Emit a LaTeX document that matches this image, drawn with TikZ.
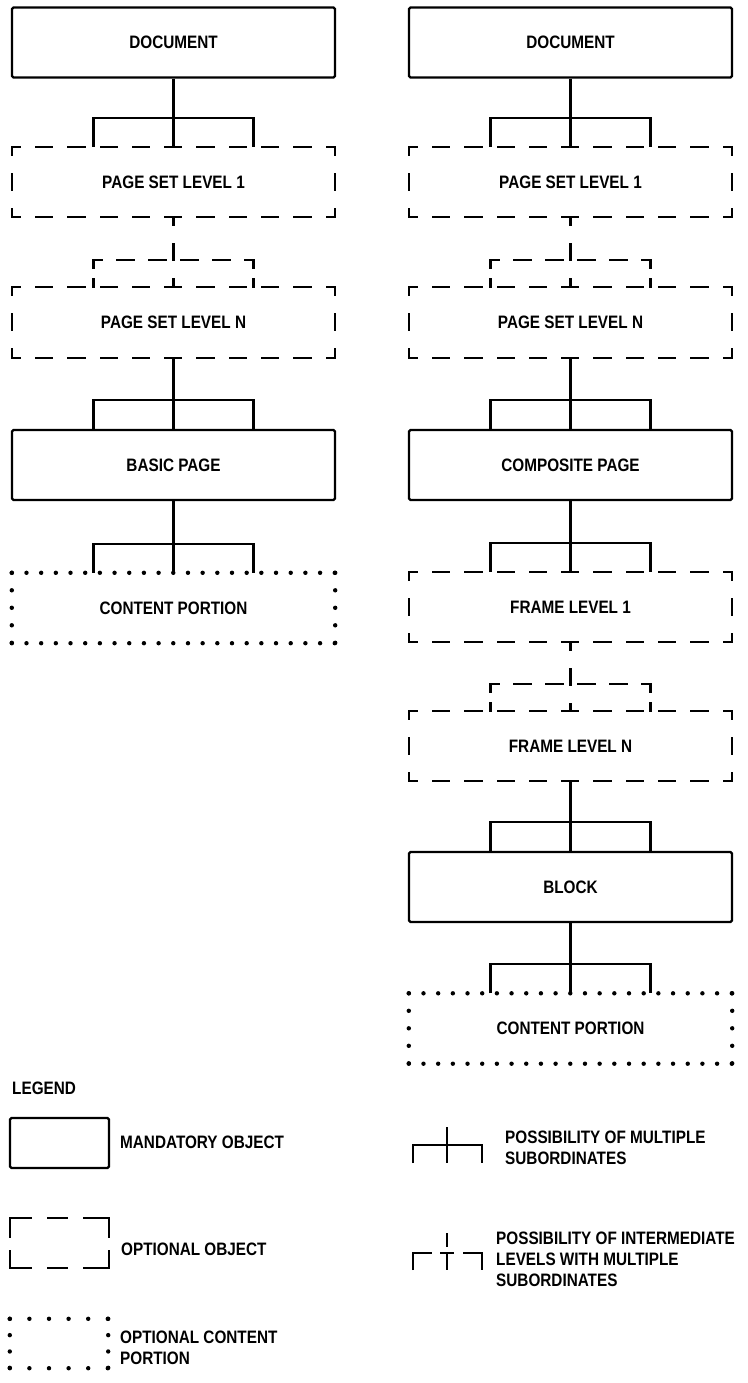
\documentclass[tikz,border=0pt]{standalone}
\usepackage{fontspec}
\newfontfamily\lblfont[FakeStretch=0.85]{Liberation Sans}
\usetikzlibrary{calc}

% dashed outline of an optional object
\newcommand\optframe[1]{%
  \draw[hside] (#1.north west) -- (#1.north east);
  \draw[hside] (#1.south west) -- (#1.south east);
  \draw[vside] (#1.north west) -- (#1.south west);
  \draw[vside] (#1.north east) -- (#1.south east);}
% dotted outline of a content portion
\newcommand\dotframe[1]{%
  \draw[hdots] (#1.north west) -- (#1.north east);
  \draw[hdots] (#1.south west) -- (#1.south east);
  \draw[vdots] (#1.north west) -- (#1.south west);
  \draw[vdots] (#1.north east) -- (#1.south east);}
% mandatory link to several subordinates
\newcommand\fanout[2]{%
  \draw[wire] (#1.south) -- (#2.north);
  \draw[wire] ([xshift=-80pt]#2.north) -- ([xshift=-80pt,yshift=29pt]#2.north)
              -- ([xshift=80pt,yshift=29pt]#2.north) -- ([xshift=80pt]#2.north);}
% link through optional intermediate levels
\newcommand\dfanout[2]{%
  \draw[vside] (#1.south) -- (#2.north);
  \draw[brh] ([xshift=-80pt,yshift=27pt]#2.north) -- ([xshift=80pt,yshift=27pt]#2.north);
  \draw[brv] ([xshift=-80pt,yshift=27pt]#2.north) -- ([xshift=-80pt]#2.north);
  \draw[brv] ([xshift=80pt,yshift=27pt]#2.north) -- ([xshift=80pt]#2.north);}

\begin{document}
\begin{tikzpicture}[x=1pt,y=-1pt,
  every node/.style={font=\lblfont\bfseries\fontsize{18}{21}\selectfont, inner sep=0pt},
  obj/.style={rectangle, minimum width=323pt, minimum height=70pt},
  mand/.style={obj, draw, line width=2.3pt, rounded corners=1.5pt},
  opt/.style={obj},
  cont/.style={obj},
  wire/.style={line width=2.3pt},
  hside/.style={line width=2.3pt, line cap=rect, dash pattern=on 16pt off 16.3pt, dash phase=8pt},
  vside/.style={line width=2.3pt, line cap=rect, dash pattern=on 16pt off 19pt, dash phase=8pt},
  brh/.style={line width=2.3pt, line cap=rect, dash pattern=on 16pt off 16pt, dash phase=8pt},
  brv/.style={line width=2.3pt, line cap=rect, dash pattern=on 16pt off 11pt, dash phase=8pt},
  hdots/.style={line width=4.4pt, line cap=round, dash pattern=on 0pt off 14.68pt},
  vdots/.style={line width=4.4pt, line cap=round, dash pattern=on 0pt off 17.5pt},
  lhdots/.style={line width=4.4pt, line cap=round, dash pattern=on 0pt off 19.6pt},
  lvdots/.style={line width=4.4pt, line cap=round, dash pattern=on 0pt off 16.33pt},
  legh/.style={line width=2.3pt, line cap=rect, dash pattern=on 21pt off 17pt on 19pt off 17pt on 30pt off 10pt},
  legv/.style={line width=2.3pt, line cap=rect, dash pattern=on 19pt off 14pt on 30pt off 10pt},
]
\useasboundingbox (0,0) rectangle (747,1383);

% ---- basic page structure
\node[mand] (docL)  at (173.5,42.5) {DOCUMENT};
\node[opt]  (ps1L)  at (173.5,182)  {PAGE SET LEVEL 1};
\node[opt]  (psnL)  at (173.5,322.5){PAGE SET LEVEL N};
\node[mand] (basic) at (173.5,465)  {BASIC PAGE};
\node[cont] (contL) at (173.5,608)  {CONTENT PORTION};
\optframe{ps1L}
\optframe{psnL}
\dotframe{contL}
\fanout{docL}{ps1L}
\dfanout{ps1L}{psnL}
\fanout{psnL}{basic}
\fanout{basic}{contL}

% ---- composite page structure
\node[mand] (docR)  at (570.5,42.5) {DOCUMENT};
\node[opt]  (ps1R)  at (570.5,182)  {PAGE SET LEVEL 1};
\node[opt]  (psnR)  at (570.5,322.5){PAGE SET LEVEL N};
\node[mand] (comp)  at (570.5,465)  {COMPOSITE PAGE};
\node[opt]  (fr1)   at (570.5,607)  {FRAME LEVEL 1};
\node[opt]  (frn)   at (570.5,746)  {FRAME LEVEL N};
\node[mand] (block) at (570.5,887)  {BLOCK};
\node[cont] (contR) at (570.5,1028.5){CONTENT PORTION};
\optframe{ps1R}
\optframe{psnR}
\optframe{fr1}
\optframe{frn}
\dotframe{contR}
\fanout{docR}{ps1R}
\dfanout{ps1R}{psnR}
\fanout{psnR}{comp}
\fanout{comp}{fr1}
\dfanout{fr1}{frn}
\fanout{frn}{block}
\fanout{block}{contR}

% ---- legend
\node[anchor=west] (legend) at (12,1088) {LEGEND};

\node[draw, line width=2.3pt, rounded corners=1.5pt, minimum width=99pt, minimum height=50pt] (kmand) at (59.5,1143) {};
\node[anchor=west] (tmand) at (120,1142) {MANDATORY OBJECT};

\node[minimum width=99pt, minimum height=50pt] (kopt) at (59.5,1243) {};
\draw[legh] (kopt.north west) -- (kopt.north east);
\draw[legh] (kopt.south west) -- (kopt.south east);
\draw[legv] (kopt.north west) -- (kopt.south west);
\draw[legv] (kopt.north east) -- (kopt.south east);
\node[anchor=west] (topt) at (121,1249) {OPTIONAL OBJECT};

\node[minimum width=98pt, minimum height=49pt] (kdot) at (59,1343.5) {};
\draw[lhdots] (kdot.north west) -- (kdot.north east);
\draw[lhdots] (kdot.south west) -- (kdot.south east);
\draw[lvdots] (kdot.north west) -- (kdot.south west);
\draw[lvdots] (kdot.north east) -- (kdot.south east);
\node[anchor=west, align=left] (tdot) at (120,1348) {OPTIONAL CONTENT\\PORTION};

% multiple subordinates symbol
\draw[wire] (413,1163) -- (413,1145) -- (482,1145) -- (482,1163);
\draw[wire] (447,1127) -- (447,1163);
\node[anchor=west, align=left] (tmult) at (505,1148) {POSSIBILITY OF MULTIPLE\\SUBORDINATES};

% intermediate levels symbol
\draw[wire] (413,1270) -- (413,1253) -- (432,1253);
\draw[wire] (440,1253) -- (454,1253);
\draw[wire] (463,1253) -- (482,1253) -- (482,1270);
\draw[wire] (447,1233) -- (447,1247);
\draw[wire] (447,1253) -- (447,1270);
\node[anchor=west, align=left] (tinter) at (496,1259) {POSSIBILITY OF INTERMEDIATE\\LEVELS WITH MULTIPLE\\SUBORDINATES};
\end{tikzpicture}
\end{document}
